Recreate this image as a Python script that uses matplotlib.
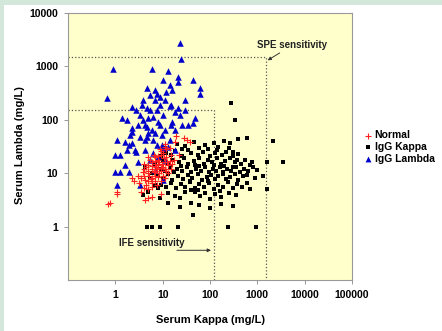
import matplotlib
matplotlib.use("Agg")
import matplotlib.pyplot as plt
from matplotlib.patches import Rectangle

plt.rcParams["font.family"] = ["Liberation Sans", "DejaVu Sans"]

# Normal (red +)
normal_kappa = [5, 6, 7, 8, 9, 10, 6, 5, 4, 7, 8, 11, 12, 9, 6, 5, 4, 3.5, 4.5, 6, 7, 8, 10, 12,
                13, 14, 10, 7, 5.5, 4, 3.8, 4.8, 5.2, 6.5, 7.5, 8.5, 9.5, 11, 6, 7, 8, 9, 12, 15,
                5, 4.2, 3.2, 4, 5, 6, 7.5, 9, 11, 13, 15, 16, 14, 18, 28, 22, 17, 6.8, 5.8, 7.2,
                8.2, 9.1, 10.5, 4.4, 3, 2.5, 3.5, 4.2, 9, 0.7, 1.1, 2.2, 6.5, 8.8, 11, 19,
                0.77, 1.1, 4.9, 12.5, 38, 11.2, 6, 33]
normal_lambda = [10, 12, 9, 14, 11, 13, 8, 7, 9, 15, 18, 16, 20, 22, 16, 14, 12, 8, 6, 6.5, 7, 8.5, 9, 11,
                 14, 17, 24, 20, 18, 15, 10.5, 11, 9, 10.5, 12, 10, 15, 12, 13.5, 17, 21, 26, 28, 22,
                 20, 7.5, 6.5, 5.2, 5, 5.5, 6, 7, 8, 10, 12, 15, 30, 38, 45, 22, 18, 11.2, 7.8, 13.1,
                 16, 12.5, 19, 13, 9, 7, 4.5, 3.2, 4, 2.7, 4, 8, 22, 28, 35, 50,
                 2.8, 4.5, 3.4, 16, 39, 31, 3.6, 42]

# IgG Kappa (black squares)
kappa_kappa = [20, 30, 45, 60, 80, 120, 150, 200, 250, 90, 35,
               12, 15, 18, 25, 40, 55, 70, 100, 130, 180, 220, 300, 400, 140, 25,
               10, 13, 16, 22, 28, 35, 45, 60, 75, 90, 110, 140, 170, 210, 260, 330, 450, 550, 700, 9, 48, 120, 380,
               9, 11, 14, 17, 20, 26, 32, 40, 50, 65, 80, 95, 115, 135, 160, 190, 230, 280, 350, 420, 520, 650, 800,
               1000, 24, 60, 200, 300,
               8, 10, 13, 16, 21, 27, 34, 42, 55, 68, 85, 105, 125, 150, 185, 220, 270, 330, 400, 500, 600, 900,
               1300, 38, 90,
               9, 12, 15, 19, 24, 30, 38, 48, 60, 75, 95, 120, 150, 190, 240, 300, 380, 480, 600, 700, 1600, 55, 160,
               8.8, 13, 18, 23, 30, 40, 48, 62, 80, 100, 130, 170, 250, 350, 3.8, 5,
               13, 23, 40, 100, 60, 170, 300,
               44, 4.7, 6, 8.8, 21, 240, 950,
               4.2, 5.4, 6.9, 8, 6, 7, 8, 9, 10, 11,
               280, 340, 600, 400, 2150, 270, 300, 1600, 3500, 780, 700]
lambda_kappa = [35, 32, 38, 30, 34, 36, 31, 40, 30, 28, 27,
                24, 22, 26, 21, 24, 22, 25, 21, 24, 22, 25, 21, 23, 27, 28,
                17, 15, 18, 16, 19, 15, 17, 19, 15, 18, 16, 19, 15, 17, 19, 16, 15, 18, 14, 19, 14, 14, 18,
                12, 11, 13, 10.5, 12, 11, 13, 10.5, 12, 11, 13, 10.5, 12, 11, 13, 10.5, 12, 11, 13, 10.5, 12, 11, 13,
                11.5, 13.5, 13.8, 13.5, 12.8,
                9, 8, 9.5, 7.5, 8.8, 7.8, 9.2, 8, 9.6, 7.6, 8.6, 9.3, 7.7, 8.8, 9.6, 7.9, 8.4, 9.5, 7.6, 8.7, 9.4, 8.2,
                9, 7.2, 7.1,
                6, 5.5, 6.5, 5.2, 6.2, 5.5, 6.8, 5.3, 6.3, 5.4, 6.6, 5.1, 6.1, 5.6, 6.7, 5.3, 6.2, 5.5, 6.5, 5, 5, 4.8, 4.6,
                3.4, 4.3, 3.8, 3.4, 4.5, 4.9, 4.4, 3.7, 4.2, 3.3, 4.0, 3.6, 4.3, 3.9, 3.9, 4.5,
                2.8, 2.3, 2.8, 2.2, 2.5, 2.6, 2.4,
                1.65, 1.0, 1.0, 1.0, 1.0, 1.0, 1.0,
                13, 8.2, 6, 5.3, 10, 14, 17, 21, 25, 30,
                205, 100, 46, 44, 40, 37, 25, 16, 16, 16, 5]

# IgG Lambda (blue triangles)
kappa_lambda = [23, 24, 0.9, 6, 13, 10, 21, 21, 44, 62, 62, 0.66, 4.7, 5.4, 7.6, 8.8, 12, 16, 3.8, 6.9,
                14.3, 2.3, 2.8, 4.7, 7.6, 1.4, 1.8, 3.8, 6.2, 10, 16, 26, 44, 48, 2.3, 4.7, 6, 8.8, 11.2,
                1.1, 1.6, 2.3, 3.3, 4.7, 6.2, 7.6, 1.0, 1.26, 1.8, 2.8, 6.2, 10, 5, 6.9, 9.5, 13, 3, 1.6,
                1.0, 1.26, 1.9, 1.1, 3.3, 6.9, 10, 8, 2.3, 4.2, 15, 15, 21, 30, 18,
                5.4, 8.8, 11.2, 3.3, 5, 8, 2.05, 4.2, 9.9, 14.3, 2.6, 4.2, 5.4, 11.2, 18, 6.9, 14.3, 30,
                23, 35, 18, 3.6, 3, 1.9]
lambda_lambda = [2700, 1380, 890, 890, 820, 555, 630, 510, 555, 395, 305, 255, 395, 290, 310, 270, 330, 360,
                 235, 235, 180, 175, 152, 165, 152, 108, 100, 100, 112, 123, 92, 80, 87, 108, 70, 72, 65, 80,
                 65, 42, 39, 37, 48, 48, 42, 34, 22, 22, 27, 25, 24, 30, 57, 57, 34, 31, 16, 14, 10.5, 10.5,
                 10.5, 6, 6, 11.5, 7.4, 20, 60, 80, 80, 190, 165, 152, 140,
                 152, 190, 235, 123, 108, 92, 52, 42, 52, 42, 27, 27, 18, 18, 27, 360, 450, 235,
                 123, 80, 65, 190, 80, 34]

fig = plt.figure(figsize=(4.42, 3.31), dpi=100)
fig.patch.set_facecolor("#d3e7da")
fig.patches.append(Rectangle((4 / 442, 0), 1, 1 - 5 / 331, transform=fig.transFigure,
                             facecolor="white", edgecolor="none", zorder=-5))

ax = fig.add_axes([68 / 442, 1 - 280 / 331, (352 - 68) / 442, (280 - 13) / 331])
ax.set_facecolor("#ffffcc")
ax.set_xscale("log")
ax.set_yscale("log")
ax.set_xlim(0.1, 100000)
ax.set_ylim(0.1, 10000)

# sensitivity limits
spe = 1500
ife_k, ife_l = 120, 150
ax.plot([0.1, spe, spe], [spe, spe, 0.1], ls=":", color="#555555", lw=0.9, zorder=1)
ax.plot([0.1, ife_k, ife_k], [ife_l, ife_l, 0.1], ls=":", color="#555555", lw=0.9, zorder=1)

ax.scatter(kappa_lambda, lambda_lambda, marker="^", s=22, color="#0000cc", linewidths=0,
           label="IgG Lambda", zorder=3)
ax.scatter(kappa_kappa, lambda_kappa, marker="s", s=12, color="black", linewidths=0,
           label="IgG Kappa", zorder=2)
ax.scatter(normal_kappa, normal_lambda, marker="+", s=22, color="#ff2020", linewidths=0.8,
           label="Normal", zorder=4)

ax.annotate("SPE sensitivity", xy=(1650, 1300), xytext=(5500, 2500), fontsize=7,
            fontweight="bold", color="#222222", ha="center", va="center",
            arrowprops=dict(arrowstyle="-|>", color="#333333", lw=0.7, mutation_scale=5,
                            shrinkA=0, shrinkB=0))
ax.text(1.2, 0.5, "IFE sensitivity", fontsize=7, fontweight="bold", color="#222222",
        ha="left", va="center")
ax.annotate("", xy=(105, 0.36), xytext=(20, 0.36),
            arrowprops=dict(arrowstyle="-|>", color="#333333", lw=0.7, mutation_scale=5,
                            shrinkA=0, shrinkB=0))

ax.set_xticks([1, 10, 100, 1000, 10000, 100000])
ax.set_xticklabels(["1", "10", "100", "1000", "10000", "100000"])
ax.set_yticks([1, 10, 100, 1000, 10000])
ax.set_yticklabels(["1", "10", "100", "1000", "10000"])
ax.minorticks_off()
ax.tick_params(labelsize=7.5, length=3, width=0.6, color="#888888", pad=4)
for lab in ax.get_xticklabels() + ax.get_yticklabels():
    lab.set_fontweight("bold")
for sp in ax.spines.values():
    sp.set_color("#999999")
    sp.set_linewidth(0.8)

fig.text(210 / 442, 1 - 320 / 331, "Serum Kappa (mg/L)", fontsize=8, fontweight="bold",
         ha="center", va="center")
fig.text(20 / 442, 1 - 145 / 331, "Serum Lambda (mg/L)", fontsize=8, fontweight="bold",
         ha="center", va="center", rotation=90)

h, l = ax.get_legend_handles_labels()
order = [2, 1, 0]
fig.legend([h[i] for i in order], [l[i] for i in order], loc="center left",
           bbox_to_anchor=(358 / 442, 1 - 147 / 331), frameon=False,
           prop={"weight": "bold", "size": 7.5}, handletextpad=0.1, labelspacing=0.15,
           handlelength=1.0, borderpad=0, markerscale=0.9)

fig.savefig("out.png", dpi=100)
